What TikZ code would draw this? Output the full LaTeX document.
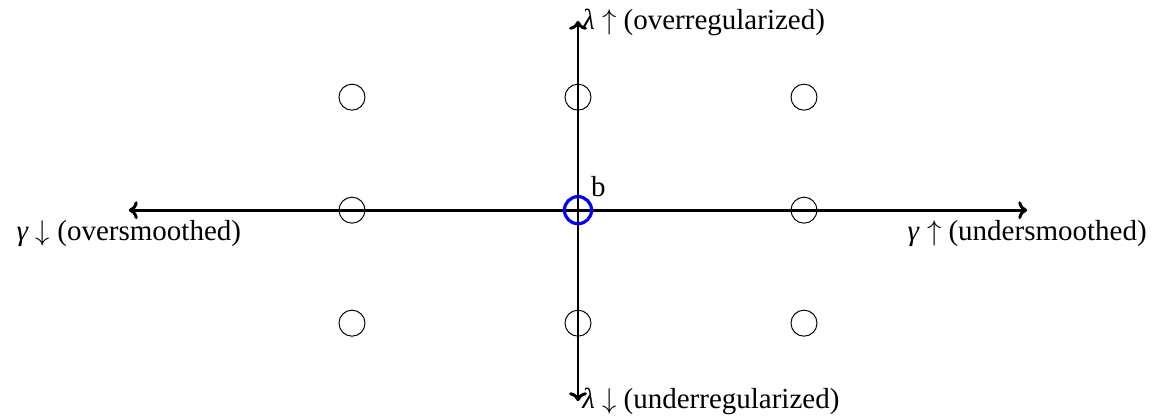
\documentclass[tikz,border=0pt]{standalone}
\usepackage{fontspec}
\setmainfont{Liberation Serif}
\usepackage{tikz}
\usetikzlibrary{arrows.meta,positioning,calc}

\begin{document}
\begin{tikzpicture}[
  grid/.style={draw, circle, minimum size=0.46cm, inner sep=0pt, line width=0.5pt},
  best/.style={draw=blue, circle, minimum size=0.48cm, inner sep=0pt, line width=1.6pt},
  axis/.style={line width=1.5pt, {To[length=4.5pt,width=9pt]}-{To[length=4.5pt,width=9pt]}},
  lbl/.style={font=\fontsize{14.6}{17}\selectfont}
]
\useasboundingbox (-10.23,-3.65) rectangle (10.46,3.72);

% grid of settings
\node[grid] (ul) at (-4,2) {};
\node[grid] (uc) at (0,2) {};
\node[grid] (ur) at (4,2) {};
\node[grid] (ml) at (-4,0) {};
\node[grid] (mr) at (4,0) {};
\node[grid] (ll) at (-4,-2) {};
\node[grid] (lc) at (0,-2) {};
\node[grid] (lr) at (4,-2) {};

% axes
\coordinate (left) at (-7.95,0);
\coordinate (right) at (7.95,0);
\coordinate (top) at (0,3.35);
\coordinate (bottom) at (0,-3.38);
\draw[axis] (left) -- (right);
\draw[axis] (bottom) -- (top);

% chosen setting
\node[best] (b) at (0,0) {};
\node[lbl, anchor=south west, inner sep=1pt] (blab) at (b.north east) {b};

% axis labels
\node[lbl, right, inner sep=2pt] (lup) at ([yshift=-1pt]top) {\textit{λ} $\uparrow$ (overregularized)};
\node[lbl, right, inner sep=2pt] (ldown) at (bottom) {\textit{λ} $\downarrow$ (underregularized)};
\node[lbl, below, inner sep=5pt] (gdown) at (left) {\textit{γ} $\downarrow$ (oversmoothed)};
\node[lbl, below, inner sep=5pt] (gup) at (right) {\textit{γ} $\uparrow$ (undersmoothed)};
\end{tikzpicture}
\end{document}
